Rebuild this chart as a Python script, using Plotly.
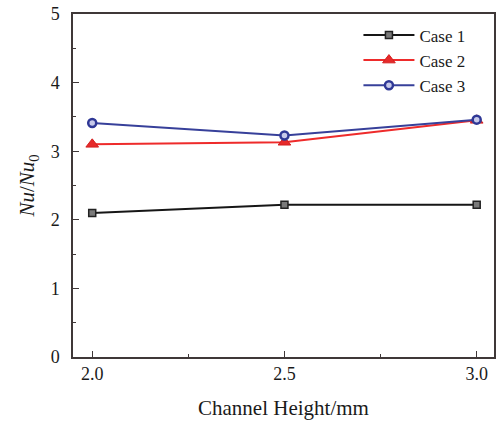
import plotly.graph_objects as go

# Channel heights (mm) and normalised Nusselt numbers
heights = [2.0, 2.5, 3.0]
case1 = [2.10, 2.22, 2.22]
case2 = [3.10, 3.13, 3.45]
case3 = [3.41, 3.23, 3.46]

x_ticks = [2.0, 2.5, 3.0]
x_tick_text = ["2.0", "2.5", "3.0"]

SERIF = "Liberation Serif, Times New Roman, serif"
AXIS_COLOR = "#3f3838"

fig = go.Figure()

fig.add_trace(go.Scatter(
    x=heights, y=case1, name="Case 1", mode="lines+markers",
    line=dict(color="#161616", width=2),
    marker=dict(symbol="square", size=7, color="#7a7a7a",
                line=dict(color="#222222", width=1.5)),
))
fig.add_trace(go.Scatter(
    x=heights, y=case2, name="Case 2", mode="lines+markers",
    line=dict(color="#ee2b2b", width=2),
    marker=dict(symbol="triangle-up", size=11, color="#e62a2a",
                line=dict(color="#d42020", width=1)),
))
fig.add_trace(go.Scatter(
    x=heights, y=case3, name="Case 3", mode="lines+markers",
    line=dict(color="#37409a", width=2),
    marker=dict(symbol="circle", size=8, color="#c7c9ea",
                line=dict(color="#2f3896", width=2.5)),
))

fig.update_layout(
    width=497, height=423,
    margin=dict(l=73, r=1, t=14, b=66),
    paper_bgcolor="white", plot_bgcolor="white",
    font=dict(family=SERIF, size=18, color="#1a1a1a"),
    showlegend=True,
    legend=dict(
        x=0.678, y=0.99, xanchor="left", yanchor="top",
        bgcolor="rgba(0,0,0,0)", borderwidth=0,
        font=dict(family=SERIF, size=17, color="#1a1a1a"),
        itemwidth=51, tracegroupgap=0,
    ),
)

fig.update_xaxes(
    range=[1.95, 3.045],
    tickvals=x_ticks, ticktext=x_tick_text,
    ticks="inside", ticklen=6, tickwidth=1.2, tickcolor=AXIS_COLOR,
    minor=dict(dtick=0.25, tick0=2.0, ticks="inside", ticklen=3,
               tickcolor=AXIS_COLOR, tickwidth=1.2),
    showline=True, linecolor=AXIS_COLOR, linewidth=1.5, mirror=True,
    showgrid=False, zeroline=False,
    tickfont=dict(family=SERIF, size=18),
    title=dict(text="Channel Height/mm", font=dict(family=SERIF, size=21),
               standoff=17),
)

fig.update_yaxes(
    range=[0, 5], dtick=1, tick0=0,
    ticks="inside", ticklen=6, tickwidth=1.2, tickcolor=AXIS_COLOR,
    minor=dict(dtick=0.5, tick0=0, ticks="inside", ticklen=3,
               tickcolor=AXIS_COLOR, tickwidth=1.2),
    showline=True, linecolor=AXIS_COLOR, linewidth=1.5, mirror=True,
    showgrid=False, zeroline=False,
    tickfont=dict(family=SERIF, size=18),
    ticklabelstandoff=8,
    title=dict(text="<i>Nu</i>/<i>Nu</i><sub>0</sub>",
               font=dict(family=SERIF, size=21), standoff=10),
)

fig.write_html("out.html")
